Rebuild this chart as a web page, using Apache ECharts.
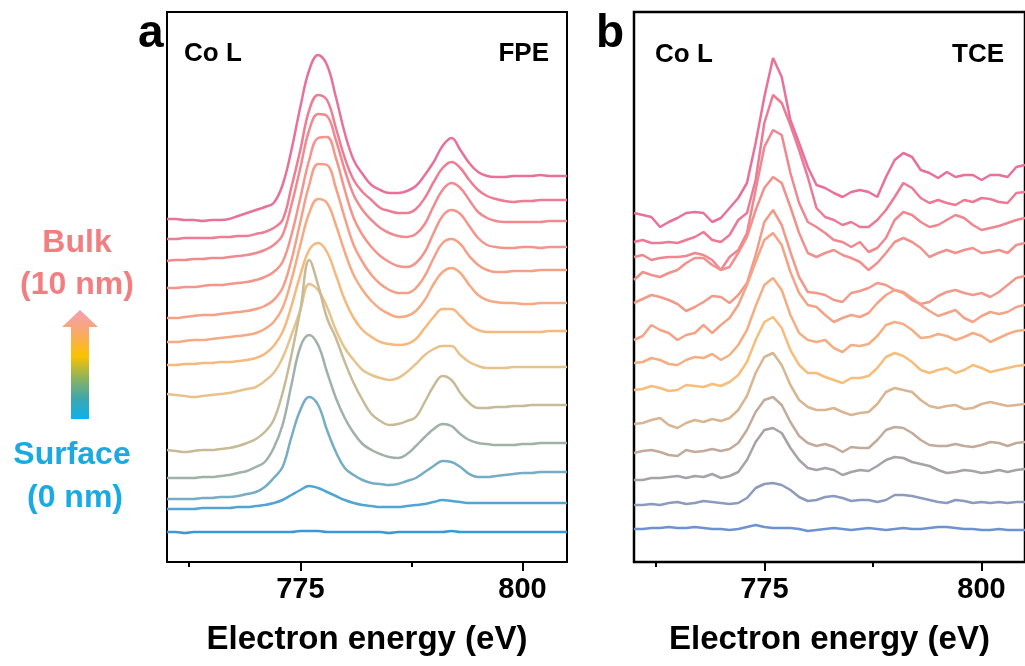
<!DOCTYPE html>
<html>
<head>
<meta charset="utf-8">
<script src="https://cdn.jsdelivr.net/npm/echarts@6/dist/echarts.min.js"></script>
<style>
  html, body { margin: 0; padding: 0; background: #fff; }
  #chart { width: 1025px; height: 666px; }
</style>
</head>
<body>
<div id="chart"></div>
<script>
/* ================= data ================= */
// photon / electron energy grid (eV)
const energy = [760,761,762,763,764,765,766,767,768,769,770,771,772,773,774,775,776,777,778,779,
  780,781,782,783,784,785,786,787,788,789,790,791,792,793,794,795,796,797,798,799,800,801,802,803,804,805];

const majorTicks = [775, 800];
const minorTicks = [762.5, 787.5];

// panel a : FPE, offset-stacked Co L spectra (bulk on top -> surface at bottom)
const fpe01 = [343,343,342,342,341,342,342,343,346,349,352,355,359,377,412,455,492,507,497,465,429,402,388,377,372,369,369,371,376,387,400,416,424,412,399,390,386,385,385,386,386,386,387,386,386,386];
const fpe02 = [323,323,324,324,324,324,325,325,326,326,328,330,334,342,375,412,452,467,462,434,404,382,370,362,354,351,349,349,353,364,380,394,400,394,382,372,366,363,361,360,361,361,362,362,362,362];
const fpe03 = [301,302,302,303,303,304,304,305,306,307,309,312,317,327,357,394,432,448,446,422,392,367,352,342,334,329,326,325,328,338,356,372,379,374,362,350,344,341,340,340,340,340,340,341,341,341];
const fpe04 = [274,274,275,275,276,277,277,278,279,280,282,285,290,300,327,364,402,424,425,404,372,344,327,315,306,300,296,295,299,310,329,346,352,348,336,324,317,315,314,314,315,315,314,315,315,315];
const fpe05 = [244,244,245,246,247,247,248,249,250,251,253,256,262,274,302,340,377,398,397,374,344,317,300,287,278,272,269,269,274,286,304,319,323,318,306,297,292,290,290,291,291,291,292,292,292,292];
const fpe06 = [220,220,221,222,222,223,224,225,226,227,229,233,240,254,282,317,349,363,359,337,310,287,272,261,253,248,245,246,251,262,278,290,294,289,277,267,262,260,259,259,258,258,259,259,259,259];
const fpe07 = [197,197,198,198,199,199,200,200,201,202,204,208,216,230,256,287,312,319,310,287,262,244,232,225,220,218,217,218,223,234,245,253,253,246,237,232,230,230,230,230,230,230,230,231,231,231];
const fpe08 = [168,167,166,165,166,167,168,169,171,173,175,181,189,204,227,252,278,272,255,232,214,202,192,187,184,182,184,190,198,207,213,216,216,207,200,196,194,194,194,195,195,195,195,195,195,195];
const fpe09 = [112,111,110,111,112,112,113,114,116,119,123,130,142,169,207,252,302,277,244,224,200,179,162,148,141,137,138,141,145,160,176,186,182,169,159,154,154,155,155,156,156,157,157,157,157,157];
const fpe10 = [84,84,84,84,85,85,86,87,89,91,95,100,114,137,177,215,227,217,190,164,144,129,118,112,108,105,104,108,116,125,133,138,136,128,122,119,118,117,117,117,118,118,119,119,119,119];
const fpe11 = [63,63,63,63,64,64,65,65,66,68,70,75,84,95,125,152,165,157,132,110,94,87,82,79,78,77,78,81,84,90,96,101,100,95,88,85,85,86,87,88,89,89,90,90,90,90];
const fpe12 = [53,53,53,53,54,54,54,54,55,55,56,57,59,62,67,72,76,74,70,66,62,59,57,56,55,55,55,56,57,58,60,62,61,60,59,59,59,59,59,59,59,59,59,59,59,59];
const fpe13 = [30,30,29,30,30,30,30,30,30,30,30,30,30,30,30,31,31,31,30,30,30,30,30,30,30,29,30,30,30,30,30,30,31,30,30,30,30,30,30,30,30,30,30,30,30,30];

// panel b : TCE
const tce01 = [349,347,345,335,340,344,349,350,349,340,344,354,364,379,419,465,504,485,442,419,395,377,374,369,365,370,372,370,365,385,402,409,405,392,389,384,390,385,387,387,382,387,387,385,395,397];
const tce02 = [320,322,319,319,320,319,322,325,330,322,320,327,342,349,382,439,467,459,437,412,385,354,345,342,337,340,335,335,342,352,365,379,374,364,359,362,359,357,362,360,364,363,360,359,369,370];
const tce03 = [305,307,302,304,305,305,306,309,307,302,292,305,312,329,372,415,432,427,389,359,340,335,329,322,320,315,320,310,314,324,342,350,347,340,335,337,342,347,344,337,332,334,336,339,342,344];
const tce04 = [282,290,287,285,289,292,299,304,304,297,292,295,309,325,352,374,385,379,355,329,309,305,309,312,307,304,300,292,299,309,320,324,320,314,305,309,312,309,312,314,309,310,312,309,317,319];
const tce05 = [259,263,267,265,262,258,251,255,260,266,265,259,267,279,307,340,352,337,310,285,270,269,267,262,260,269,271,274,279,277,272,269,262,258,260,266,270,272,269,267,269,265,270,277,284,286];
const tce06 = [222,226,237,232,229,222,227,229,237,229,237,244,257,277,300,322,329,317,290,269,257,255,247,240,244,247,245,249,259,267,272,270,264,257,251,246,249,252,244,240,246,250,248,250,255,257];
const tce07 = [199,200,204,202,198,197,202,205,204,208,202,207,217,232,256,277,284,272,247,229,222,220,222,214,210,217,216,218,226,237,240,238,232,224,225,228,226,222,225,229,226,220,224,228,231,232];
const tce08 = [172,173,176,174,171,172,177,176,175,178,176,180,187,200,222,240,245,234,212,197,189,189,185,182,179,184,184,186,194,205,209,206,200,192,189,192,194,189,192,197,194,190,192,194,196,197];
const tce09 = [138,139,142,144,137,134,139,142,140,143,141,144,152,166,189,205,209,197,177,162,155,152,152,154,150,147,149,150,158,170,174,172,170,162,156,154,156,157,153,154,158,160,158,156,157,158];
const tce10 = [109,111,112,110,107,106,112,110,111,113,111,113,119,132,150,162,165,157,140,126,119,116,118,115,110,115,114,114,122,132,135,134,129,122,117,116,116,118,116,115,117,120,119,116,119,120];
const tce11 = [82,82,84,84,85,86,84,86,85,88,84,86,90,102,120,132,134,129,114,102,94,92,94,92,87,90,92,91,96,102,105,104,100,98,96,92,89,90,92,91,89,90,92,90,92,93];
const tce12 = [57,57,58,57,59,60,58,59,61,60,59,58,59,64,74,78,79,77,72,65,61,62,65,66,64,61,62,62,60,62,67,67,66,64,62,60,59,62,61,59,60,59,60,59,60,60];
const tce13 = [33,33,34,34,35,34,34,35,34,33,33,32,33,35,37,35,34,34,34,33,31,32,33,34,33,32,33,34,33,32,33,34,33,33,34,35,35,34,33,33,32,32,33,32,32,32];

const fpeColors = ['#e8719a','#ed7d94','#f08a8f','#f3958b','#f59f87','#f6aa83','#f7b87e','#e8c28c','#c6bb96','#9fb2a9','#75adc4','#52a5d3','#3b98d6'];
const tceColors = ['#e8709a','#ec7a96','#ef8690','#f1918c','#f29a8a','#f3a487','#f5ae84','#f7bd7b','#d9b592','#c2ab9a','#a7a2a6','#8c9bbd','#6e91d2'];

const fpeList = [fpe01,fpe02,fpe03,fpe04,fpe05,fpe06,fpe07,fpe08,fpe09,fpe10,fpe11,fpe12,fpe13];
const tceList = [tce01,tce02,tce03,tce04,tce05,tce06,tce07,tce08,tce09,tce10,tce11,tce12,tce13];

/* ================= chart ================= */
const chart = echarts.init(document.getElementById('chart'));
const FONT = '"Liberation Sans", Arial, sans-serif';

function spectraSeries(list, colors, gridIdx, smooth) {
  return list.map((vals, i) => ({
    type: 'line',
    xAxisIndex: gridIdx * 2,
    yAxisIndex: gridIdx,
    data: vals.map((v, k) => [energy[k], v]),
    showSymbol: false,
    smooth: smooth,
    silent: true,
    lineStyle: { width: 2.5, color: colors[i] }
  }));
}

function xAxes(gridIdx) {
  return [{
    gridIndex: gridIdx, type: 'value', min: 760, max: 805, position: 'bottom',
    axisLine: { show: true, lineStyle: { color: '#000', width: 2 } },
    axisTick: { show: true, customValues: majorTicks, length: 9, lineStyle: { color: '#000', width: 2 } },
    axisLabel: { customValues: majorTicks, color: '#000', fontSize: 29, fontWeight: 'bold', fontFamily: FONT, margin: 13 },
    splitLine: { show: false },
    name: 'Electron energy (eV)', nameLocation: 'middle', nameGap: 61,
    nameTextStyle: { color: '#000', fontSize: 33, fontWeight: 'bold', fontFamily: FONT }
  }, {
    gridIndex: gridIdx, type: 'value', min: 760, max: 805, position: 'bottom',
    axisLine: { show: false },
    axisTick: { show: true, customValues: minorTicks, length: 5, lineStyle: { color: '#000', width: 2 } },
    axisLabel: { show: false },
    splitLine: { show: false }
  }];
}

function label(text, x, y, size, color, align) {
  return {
    type: 'text', x: x, y: y, silent: true,
    style: { text: text, fill: color, font: 'bold ' + size + 'px ' + FONT, textAlign: align || 'center', textVerticalAlign: 'middle' }
  };
}

chart.setOption({
  animation: false,
  backgroundColor: '#fff',
  grid: [
    { left: 167, top: 12, width: 400, height: 550, show: true, borderColor: '#000', borderWidth: 2, backgroundColor: 'transparent' },
    { left: 634, top: 12, width: 400, height: 550, show: true, borderColor: '#000', borderWidth: 2.5, backgroundColor: 'transparent' }
  ],
  xAxis: [...xAxes(0), ...xAxes(1)],
  yAxis: [
    { gridIndex: 0, type: 'value', min: 0, max: 550, show: false },
    { gridIndex: 1, type: 'value', min: 0, max: 550, show: false }
  ],
  series: [...spectraSeries(fpeList, fpeColors, 0, 0.4), ...spectraSeries(tceList, tceColors, 1, false)],
  graphic: [
    label('a', 138, 34, 46, '#000', 'left'),
    label('b', 596, 34, 46, '#000', 'left'),
    label('Co L', 184, 54, 26, '#000', 'left'),
    label('FPE', 549, 54, 26, '#000', 'right'),
    label('Co L', 655, 55, 26, '#000', 'left'),
    label('TCE', 1004, 55, 26, '#000', 'right'),
    label('Bulk', 77, 243, 32, '#f27e80'),
    label('(10 nm)', 77, 285, 32, '#f27e80'),
    label('Surface', 72, 455, 32, '#19a9e3'),
    label('(0 nm)', 75, 498, 32, '#19a9e3'),
    {
      type: 'polygon', silent: true,
      shape: { points: [[80, 310], [98, 327], [89, 327], [89, 419], [71, 419], [71, 327], [62, 327]] },
      style: {
        fill: new echarts.graphic.LinearGradient(0, 0, 0, 1, [
          { offset: 0, color: '#f59fb4' },
          { offset: 0.2, color: '#f9a86e' },
          { offset: 0.42, color: '#fcc200' },
          { offset: 0.62, color: '#8fb35a' },
          { offset: 0.82, color: '#3aa7b0' },
          { offset: 1, color: '#0fb0ec' }
        ])
      }
    }
  ]
});
</script>
</body>
</html>
